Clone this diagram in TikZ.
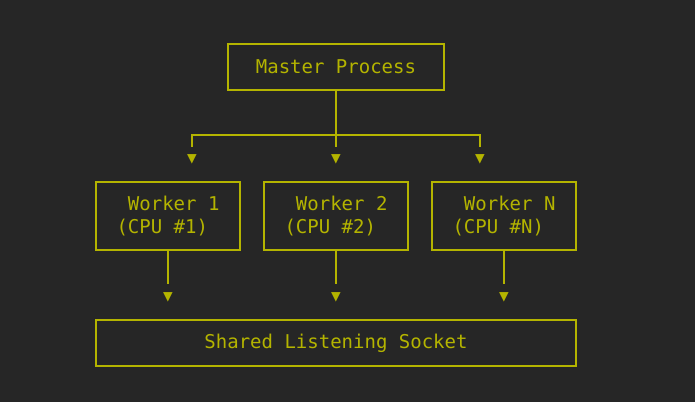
\documentclass[tikz,border=0pt]{standalone}
\usepackage{fontspec}
\setmainfont{DejaVu Sans Mono}
\usetikzlibrary{positioning}
\definecolor{bg}{HTML}{262626}
\definecolor{ink}{HTML}{B4B400}
\tikzset{
  box/.style ={draw=ink, line width=1.5pt, inner sep=0pt, font=\fontsize{19}{23}\selectfont, text=ink},
  tip/.style ={inner sep=0pt, font=\fontsize{16}{16}\selectfont, text=ink},
  wire/.style={draw=ink, line width=1.5pt}
}
\begin{document}
\begin{tikzpicture}[x=1pt, y=-1pt]
\fill[bg] (0,0) rectangle (695,402);
\useasboundingbox (0,0) rectangle (695,402);
% boxes
\node[box, minimum width=216pt, minimum height=46pt] (master) at (336,67) {Master Process};
\foreach \n/\x/\k in {w1/168/1, w2/336/2, wn/504/N}{
  \node[box, minimum width=144pt, minimum height=68pt, align=left] (\n) at (\x,216) {~Worker \k\\(CPU \#\k)};
  \node[tip] (t\n) at (\x,297) {▼};
  \coordinate (e\n) at (\x,284);
  \draw[wire] (\n.south) -- (e\n);
}
\node[box, minimum width=480pt, minimum height=46pt] (socket) at (336,343) {Shared Listening Socket};
% fan out
\coordinate (join) at (336,135);
\draw[wire] (master.south) -- (join);
\foreach \n/\x in {a/192, b/336, c/480}{
  \coordinate (f\n) at (\x,147);
  \node[tip] (s\n) at (\x,159) {▼};
}
\draw[wire] (fa) |- (join) -| (fc);
\draw[wire] (join) -- (fb);
\end{tikzpicture}
\end{document}
